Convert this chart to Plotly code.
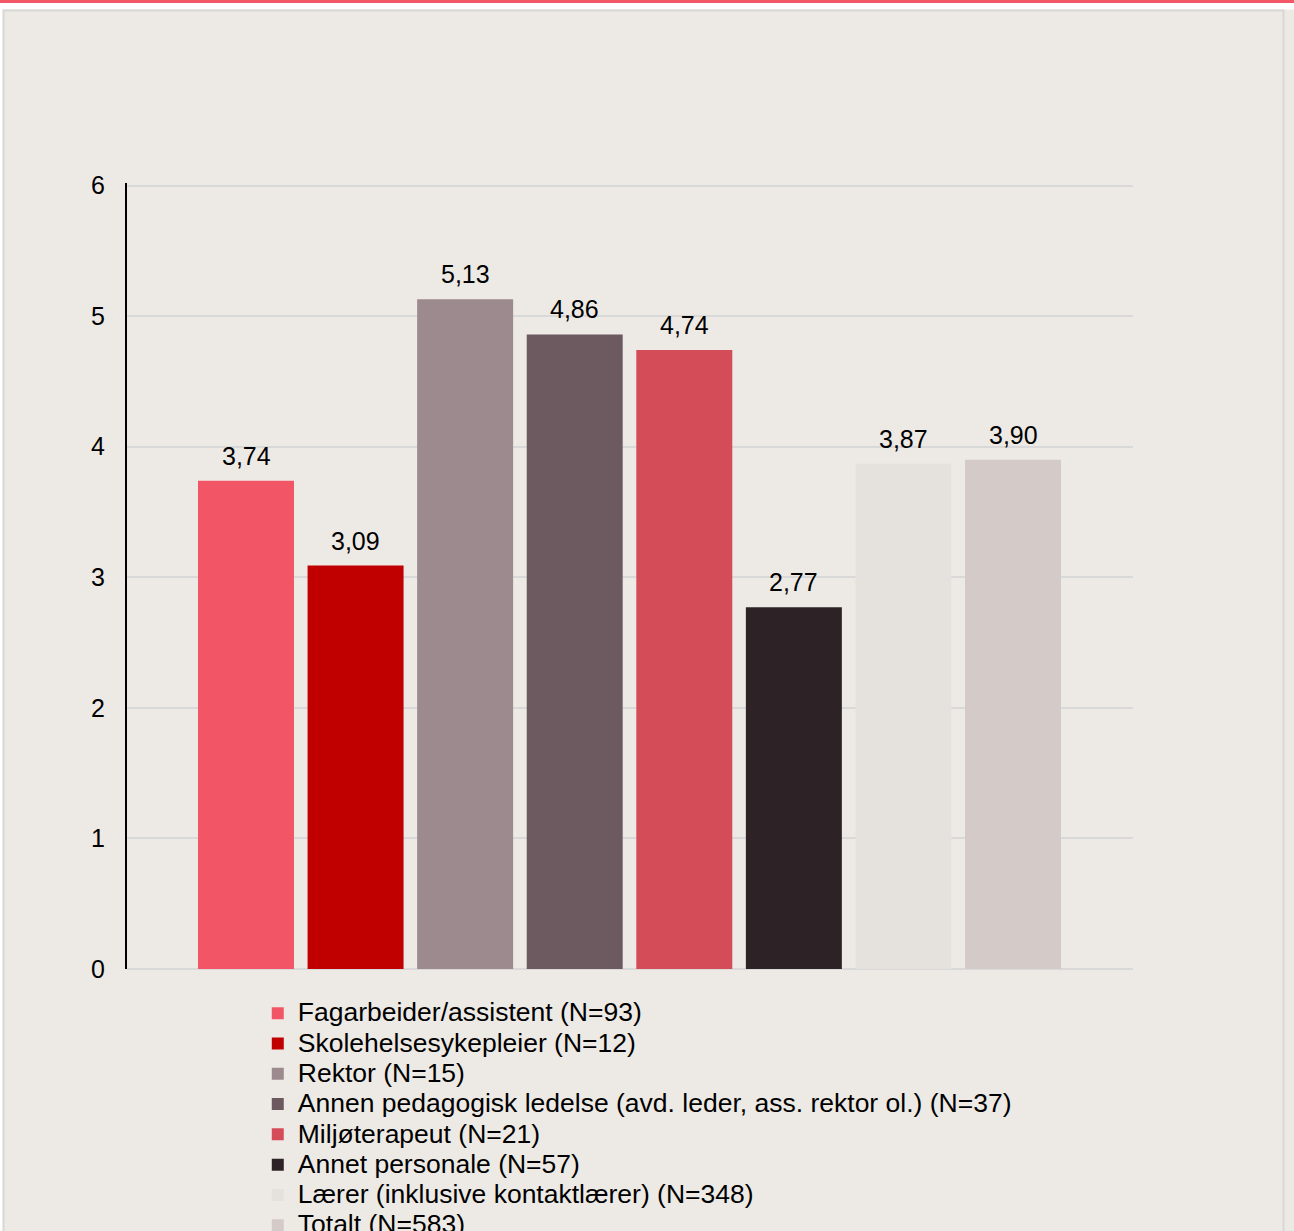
import plotly.graph_objects as go

# ---- data ----
categories = [
    "Fagarbeider/assistent (N=93)",
    "Skolehelsesykepleier (N=12)",
    "Rektor (N=15)",
    "Annen pedagogisk ledelse (avd. leder, ass. rektor ol.) (N=37)",
    "Miljøterapeut (N=21)",
    "Annet personale (N=57)",
    "Lærer (inklusive kontaktlærer) (N=348)",
    "Totalt (N=583)",
]
values = [3.74, 3.09, 5.13, 4.86, 4.74, 2.77, 3.87, 3.90]
colors = ["#F25666", "#C00000", "#9C8A8E", "#6D5A60",
          "#D54C59", "#2D2327", "#E5E1DC", "#D4CAC7"]
y_ticks = [0, 1, 2, 3, 4, 5, 6]

BG = "#EDEAE5"
FONT = "Liberation Sans, Arial, sans-serif"

fig = go.Figure()
for i, (name, v, c) in enumerate(zip(categories, values, colors)):
    fig.add_trace(go.Bar(
        x=[i], y=[v], width=0.876,
        name=f"<span style='font-size:26.5px'>{name}</span>",
        marker=dict(color=c, line=dict(width=0)),
        hoverinfo="y",
    ))

annotations = []
for i, v in enumerate(values):
    annotations.append(dict(
        x=i, y=v, xref="x", yref="y",
        text=f"{v:.2f}".replace(".", ","),
        showarrow=False, yanchor="bottom", yshift=9,
        font=dict(size=25, color="#000000", family=FONT),
    ))

Y_MAX = 6.02
W, H = 1294, 1280
PB = 969  # pixel y of plot bottom
PY6 = 186  # pixel y of value 6
PH = (PB - PY6) * Y_MAX / 6
ML, MR = 127, 161
MT = PB - PH
MB = H - PB
PW = W - ML - MR


def px_x(p):
    return (p - ML) / PW


def px_y(p):
    return (PB - p) / PH


shapes = [
    # white strip at top
    dict(type="rect", xref="paper", yref="paper", layer="below",
         x0=px_x(0), x1=px_x(W), y0=px_y(0), y1=px_y(10),
         fillcolor="#FFFFFF", line=dict(width=0)),
    # left white strip
    dict(type="rect", xref="paper", yref="paper", layer="below",
         x0=px_x(0), x1=px_x(3), y0=px_y(0), y1=px_y(H),
         fillcolor="#FFFFFF", line=dict(width=0)),
    # pink top band
    dict(type="rect", xref="paper", yref="paper", layer="below",
         x0=px_x(0), x1=px_x(W), y0=px_y(0), y1=px_y(3.5),
         fillcolor="#F25767", line=dict(width=0)),
    # panel border
    dict(type="rect", xref="paper", yref="paper", layer="below",
         x0=px_x(3.5), x1=px_x(1283.5), y0=px_y(11), y1=px_y(H + 20),
         fillcolor="rgba(0,0,0,0)", line=dict(color="#D9D7D4", width=2)),
]

fig.update_layout(
    width=W, height=H,
    margin=dict(l=ML, r=MR, t=MT, b=MB, pad=0),
    paper_bgcolor=BG, plot_bgcolor=BG,
    barmode="overlay",
    font=dict(family=FONT, color="#000000"),
    separators=", ",
    showlegend=True,
    legend=dict(
        orientation="v", x=0.130, xanchor="left", y=px_y(993), yanchor="top",
        font=dict(size=21, family=FONT, color="#000000"),
        bgcolor="rgba(0,0,0,0)", borderwidth=0,
        itemwidth=30, tracegroupgap=0,
    ),
    xaxis=dict(range=[-1.086, 8.095], showgrid=False, zeroline=False,
               showticklabels=False, showline=False, fixedrange=True),
    yaxis=dict(range=[0, Y_MAX], tickvals=y_ticks, ticktext=[str(t) for t in y_ticks],
               showgrid=True, gridcolor="#D9D9D9", gridwidth=1.5,
               zeroline=True, zerolinecolor="#D9D9D9", zerolinewidth=1.5,
               showline=True, linecolor="#000000", linewidth=2,
               ticks="", ticklabelstandoff=15,
               tickfont=dict(size=25, family=FONT, color="#000000"),
               fixedrange=True),
    annotations=annotations,
    shapes=shapes,
)

post = ("document.body.style.margin='0';"
        "document.body.style.overflow='hidden';"
        "document.documentElement.style.overflow='hidden';")
fig.write_html("out.html", post_script=post, config={"displayModeBar": False})
